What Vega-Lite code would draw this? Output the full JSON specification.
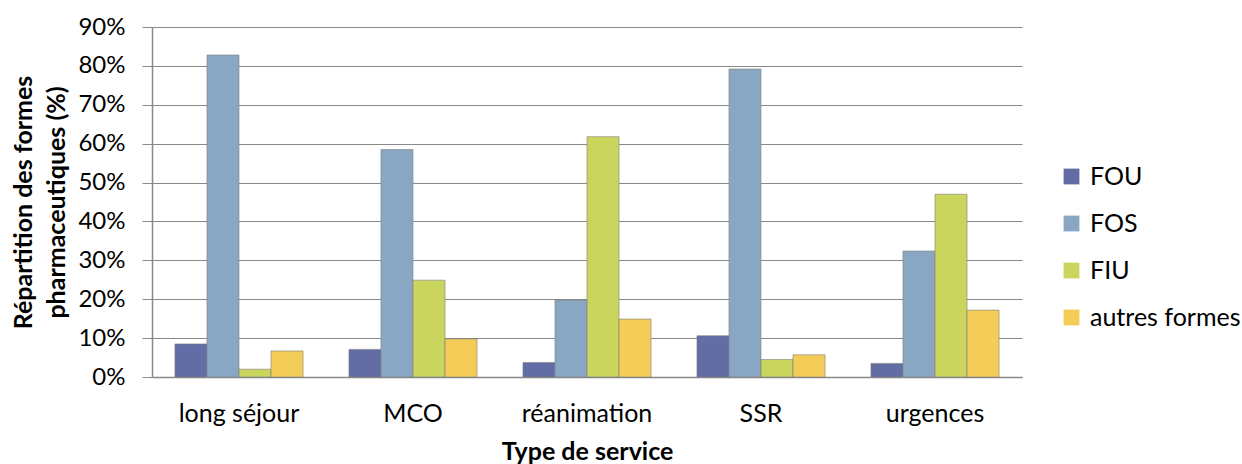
{
  "$schema": "https://vega.github.io/schema/vega-lite/v6.json",
  "width": 870,
  "height": 350,
  "autosize": "none",
  "padding": {"left": 152, "top": 27, "right": 220, "bottom": 87},
  "background": "white",
  "config": {
    "view": {"stroke": null},
    "font": "Lato"
  },
  "data": {
    "values": [
      {"service": "long séjour", "forme": "FOU", "part": 0.085},
      {"service": "long séjour", "forme": "FOS", "part": 0.828},
      {"service": "long séjour", "forme": "FIU", "part": 0.02},
      {"service": "long séjour", "forme": "autres formes", "part": 0.067},
      {"service": "MCO", "forme": "FOU", "part": 0.071},
      {"service": "MCO", "forme": "FOS", "part": 0.585},
      {"service": "MCO", "forme": "FIU", "part": 0.249},
      {"service": "MCO", "forme": "autres formes", "part": 0.098},
      {"service": "réanimation", "forme": "FOU", "part": 0.037},
      {"service": "réanimation", "forme": "FOS", "part": 0.198},
      {"service": "réanimation", "forme": "FIU", "part": 0.618},
      {"service": "réanimation", "forme": "autres formes", "part": 0.149},
      {"service": "SSR", "forme": "FOU", "part": 0.106},
      {"service": "SSR", "forme": "FOS", "part": 0.792},
      {"service": "SSR", "forme": "FIU", "part": 0.045},
      {"service": "SSR", "forme": "autres formes", "part": 0.057},
      {"service": "urgences", "forme": "FOU", "part": 0.035},
      {"service": "urgences", "forme": "FOS", "part": 0.324},
      {"service": "urgences", "forme": "FIU", "part": 0.47},
      {"service": "urgences", "forme": "autres formes", "part": 0.172}
    ]
  },
  "mark": {"type": "bar", "strokeWidth": 1, "stroke": "#7f7f7f", "strokeOpacity": 0.6},
  "encoding": {
    "x": {
      "field": "service",
      "type": "nominal",
      "sort": ["long séjour", "MCO", "réanimation", "SSR", "urgences"],
      "scale": {"paddingInner": 0.264, "paddingOuter": 0.132},
      "axis": {
        "title": "Type de service",
        "titleFontSize": 25,
        "titleFontWeight": "bold",
        "titleColor": "#000000",
        "titleBaseline": "middle",
        "titleY": 74,
        "labelAngle": 0,
        "labelFontSize": 25,
        "labelColor": "#000000",
        "labelBaseline": "middle",
        "labelPadding": 36,
        "ticks": false,
        "domainColor": "#898989",
        "domainWidth": 1.5
      }
    },
    "xOffset": {
      "field": "forme",
      "type": "nominal",
      "sort": ["FOU", "FOS", "FIU", "autres formes"],
      "scale": {"paddingInner": 0, "paddingOuter": 0}
    },
    "y": {
      "field": "part",
      "type": "quantitative",
      "scale": {"domain": [0, 0.9]},
      "axis": {
        "title": ["Répartition des formes", "pharmaceutiques (%)"],
        "titleFontSize": 25,
        "titleFontWeight": "bold",
        "titleColor": "#000000",
        "titleAngle": -90,
        "titleAlign": "center",
        "titleBaseline": "middle",
        "titleLineHeight": 33,
        "titleX": -129,
        "titleY": 175,
        "values": [0, 0.1, 0.2, 0.3, 0.4, 0.5, 0.6, 0.7, 0.8, 0.9],
        "format": ".0%",
        "labelFontSize": 24,
        "labelColor": "#000000",
        "labelPadding": 17,
        "tickSize": 10,
        "tickColor": "#898989",
        "domainColor": "#898989",
        "domainWidth": 1.5,
        "gridColor": "#898989",
        "gridWidth": 1.2
      }
    },
    "color": {
      "field": "forme",
      "type": "nominal",
      "sort": ["FOU", "FOS", "FIU", "autres formes"],
      "scale": {
        "domain": ["FOU", "FOS", "FIU", "autres formes"],
        "range": ["#616da4", "#89a7c2", "#c9d55c", "#f3cd57"]
      },
      "legend": {
        "title": null,
        "orient": "none",
        "legendX": 907,
        "legendY": 137,
        "labelFontSize": 25,
        "labelColor": "#000000",
        "symbolType": "square",
        "symbolSize": 250,
        "symbolStrokeWidth": 0,
        "rowPadding": 21,
        "labelOffset": 6
      }
    }
  }
}
